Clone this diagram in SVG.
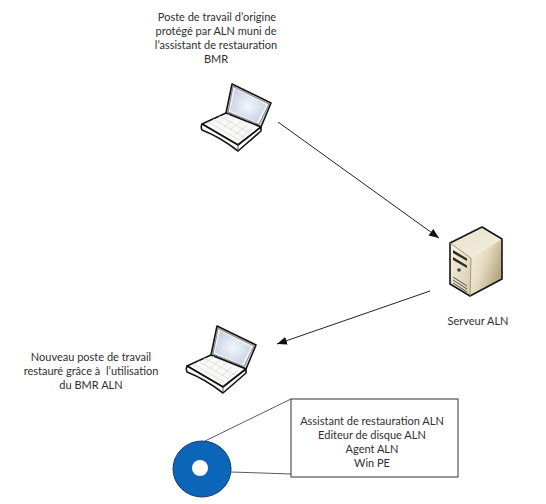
<svg xmlns="http://www.w3.org/2000/svg" width="546" height="504" viewBox="0 0 546 504">
<style>
text{font-family:Lato,"Open Sans",sans-serif;font-size:11px;fill:#2f2f2f;text-anchor:middle;white-space:pre}
.c{stroke:#222;stroke-width:1;fill:none}
.l{stroke:#5a5a5a;stroke-width:1;fill:none}
.o{stroke:#151515;stroke-width:1.6;stroke-linejoin:round}
.k{stroke:#d9d9d9;stroke-width:.8;fill:none}
</style>
<defs>
<marker id="a" markerWidth="11" markerHeight="9" refX="10" refY="4" orient="auto" markerUnits="userSpaceOnUse"><path d="M0 0L10 4L0 8z" fill="#111"/></marker>
<radialGradient id="s" cx=".5" cy=".5" r=".6"><stop offset="0" stop-color="#f4f7fb"/><stop offset="1" stop-color="#c0cfe3"/></radialGradient>
<linearGradient id="f" x1="0" y1="0" x2="1" y2=".6"><stop offset="0" stop-color="#f5efdf"/><stop offset=".5" stop-color="#e6dcc2"/><stop offset="1" stop-color="#b3a27a"/></linearGradient>
<linearGradient id="t" x1="0" y1="0" x2="1" y2="1"><stop offset="0" stop-color="#f8f4e6"/><stop offset="1" stop-color="#d5cbab"/></linearGradient>
<linearGradient id="u" x1="0" y1="0" x2="1" y2="1"><stop offset="0" stop-color="#e9e1ca"/><stop offset="1" stop-color="#f3eee0"/></linearGradient>
<g id="lap">
<path class="o" d="M232 84L271 103L261 127L226 113z" fill="#ddd"/>
<path d="M233 86.500L269 104L259 124.500L228 112z" fill="#f2f2f2" stroke="#555" stroke-width=".7"/>
<path d="M235 89L266 105L257 122.500L230 110.500z" fill="url(#s)"/>
<path class="o" d="M226 113L261 127L238 145L202 124z" fill="#f8f8f6"/>
<path class="o" d="M202 124Q200.500 127 202 130Q220 137 238 151L261 131L261 127L238 145z" fill="#fff"/>
<path class="k" d="M219 116L250 133M213 119L244 137M208 122L239 140M218 123L229 114M224 127L235 118M230 130L241 121M236 134L247 125M242 137L252 129"/>
<path d="M238 145V151" stroke="#333" stroke-width=".8"/>
</g>
</defs>
<g id="connecteurs">
<path class="c" d="M278 122L439 238" marker-end="url(#a)"/>
<path class="c" d="M430 291L277 344" marker-end="url(#a)"/>
<path class="l" d="M205 441L291 399"/>
<path class="l" d="M231 472L291 474"/>
</g>
<g id="poste-origine">
<use href="#lap"/>
<text x="217" y="21">Poste de travail d’origine</text>
<text x="216" y="35">protégé par ALN muni de</text>
<text x="216" y="49">l’assistant de restauration</text>
<text x="216" y="63">BMR</text>
</g>
<g id="serveur">
<path d="M482 227L502 239L471 258L450 243z" fill="url(#u)"/>
<path d="M471 258L502 239V279L470 296z" fill="url(#f)"/>
<path d="M450 243L471 258L470 296L450 284z" fill="url(#t)"/>
<path d="M450 243L482 227L502 239V279L470 296L450 284z" fill="none" stroke="#151515" stroke-width="1.600" stroke-linejoin="round"/>
<path d="M450 243L471 258M471 258L470 296" stroke="#8c8468" stroke-width=".8" fill="none"/>
<path d="M453 250L467 258.500V261L453 253zM453 257L467 265.500V268L453 260z" fill="#2e2a20"/>
<circle cx="459" cy="270" r="1.800" fill="#444"/>
<path d="M453 277L467 286M453 280L467 289M453 283L467 292" stroke="#444" stroke-width=".9" fill="none"/>
<text x="478" y="325">Serveur ALN</text>
</g>
<g id="nouveau-poste">
<use href="#lap" x="-15" y="242"/>
<text x="91" y="361">Nouveau poste de travail</text>
<text x="91" y="375">restauré grâce à  l’utilisation</text>
<text x="91" y="389">du BMR ALN</text>
</g>
<g id="disque">
<ellipse cx="202" cy="469" rx="29" ry="28" fill="#0b65b8" stroke="#153a5e" stroke-width="1"/>
<circle cx="200" cy="468" r="8" fill="#fff"/>
</g>
<g id="contenu">
<rect x="291" y="399" width="167" height="78" fill="#fff" stroke="#333" stroke-width="1"/>
<text x="372" y="425">Assistant de restauration ALN</text>
<text x="372" y="439">Editeur de disque ALN</text>
<text x="372" y="453">Agent ALN</text>
<text x="372" y="467">Win PE</text>
</g>
</svg>
